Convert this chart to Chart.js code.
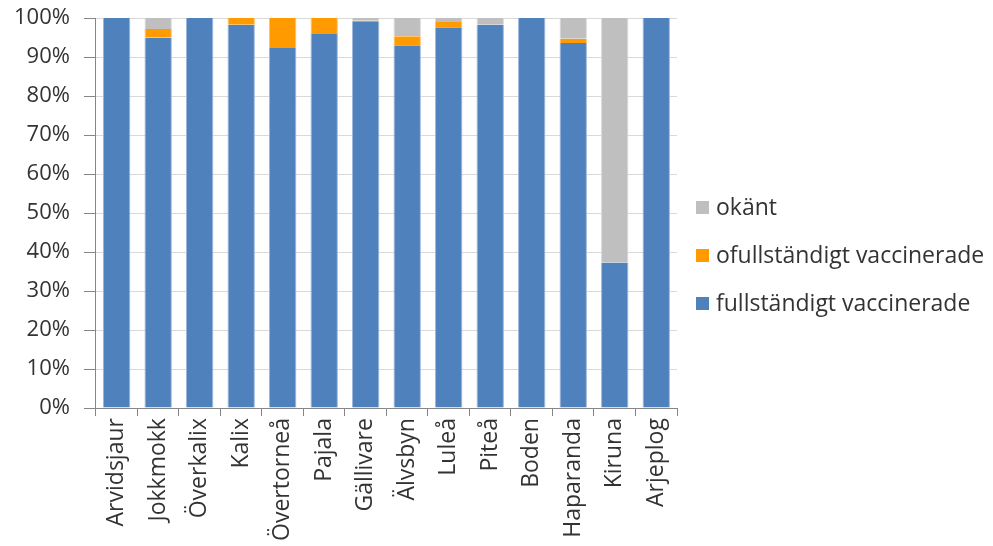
<!DOCTYPE html>
<html>
<head>
<meta charset="utf-8">
<script src="https://cdn.jsdelivr.net/npm/chart.js@4.4.1/dist/chart.umd.min.js"></script>
<style>
  html, body { margin: 0; padding: 0; background: #fff; }
  #wrap { width: 993px; height: 546px; position: relative; }
  #legend { position: absolute; left: 696px; top: 182px; font-family: 'Open Sans', sans-serif; font-size: 23px; color: #333; }
  #legend div { height: 48px; display: flex; align-items: center; white-space: nowrap; }
  #legend span.box { display: inline-block; width: 13px; height: 13px; margin: 2px 7px 0 0; }
</style>
</head>
<body>
<div id="wrap"><canvas id="chart"></canvas><div id="legend"></div></div>
<script>
const municipalities = ["Arvidsjaur", "Jokkmokk", "Överkalix", "Kalix", "Övertorneå", "Pajala", "Gällivare", "Älvsbyn", "Luleå", "Piteå", "Boden", "Haparanda", "Kiruna", "Arjeplog"];
const fullyVaccinated = [100, 95.0, 100, 98.3, 92.3, 95.9, 99.0, 93.0, 97.6, 98.3, 100, 93.6, 37.3, 100];
const partlyVaccinated = [0, 2.2, 0, 1.7, 7.7, 4.1, 0.3, 2.3, 1.4, 0, 0, 1.1, 0, 0];
const unknown = [0, 2.8, 0, 0, 0, 0, 0.7, 4.7, 1.0, 1.7, 0, 5.3, 62.7, 0];
const yTicks = [0, 10, 20, 30, 40, 50, 60, 70, 80, 90, 100];

const FONT = "'Open Sans', sans-serif";
const TEXT = "#333333";
// thin lighter edge on the bar sides, as in the original
const SIDES = { left: 1, right: 1, top: 0, bottom: 0 };

const chart = new Chart(document.getElementById("chart"), {
    type: "bar",
    data: {
        labels: municipalities,
        datasets: [
            { label: "fullständigt vaccinerade", data: fullyVaccinated, backgroundColor: "#4f81bd", borderColor: "#9db7dc" },
            { label: "ofullständigt vaccinerade", data: partlyVaccinated, backgroundColor: "#ff9a00", borderColor: "#ffc266" },
            { label: "okänt", data: unknown, backgroundColor: "#bfbfbf", borderColor: "#d9d9d9" },
        ],
    },
    options: {
        responsive: true,
        maintainAspectRatio: false,
        animation: false,
        datasets: { bar: { barPercentage: 0.66, categoryPercentage: 1, borderWidth: SIDES, borderSkipped: false } },
        layout: { padding: { top: 18, right: 316, left: 0, bottom: 3 } },
        plugins: {
            tooltip: { enabled: false },
            legend: { display: false },
        },
        scales: {
            x: {
                stacked: true,
                grid: {
                    offset: true,
                    drawOnChartArea: true,
                    color: (ctx) => ctx.index === municipalities.length ? "#d9d9d9" : "rgba(0,0,0,0)",
                    tickColor: "#868686",
                    tickLength: 8,
                },
                border: { color: "#868686" },
                ticks: {
                    minRotation: 90,
                    maxRotation: 90,
                    autoSkip: false,
                    color: TEXT,
                    font: { family: FONT, size: 23 },
                    padding: 2,
                },
            },
            y: {
                stacked: true,
                min: 0,
                max: 100,
                afterBuildTicks: (axis) => { axis.ticks = yTicks.map((v) => ({ value: v })); },
                // the tick padding would otherwise push the plot top down
                afterFit: (axis) => { axis.paddingTop = 0; },
                grid: { color: "#d9d9d9", tickColor: "#868686", tickLength: 12 },
                border: { color: "#868686" },
                ticks: {
                    color: TEXT,
                    font: { family: FONT, size: 22 },
                    padding: 14,
                    callback: (v) => v + "%",
                },
            },
        },
    },
});

// legend drawn beside the plot, in reverse dataset order like the original
const legend = document.getElementById("legend");
legend.innerHTML = chart.data.datasets.slice().reverse().map((ds) =>
    `<div><span class="box" style="background:${ds.backgroundColor}"></span>${ds.label}</div>`
).join("");
</script>
</body>
</html>
